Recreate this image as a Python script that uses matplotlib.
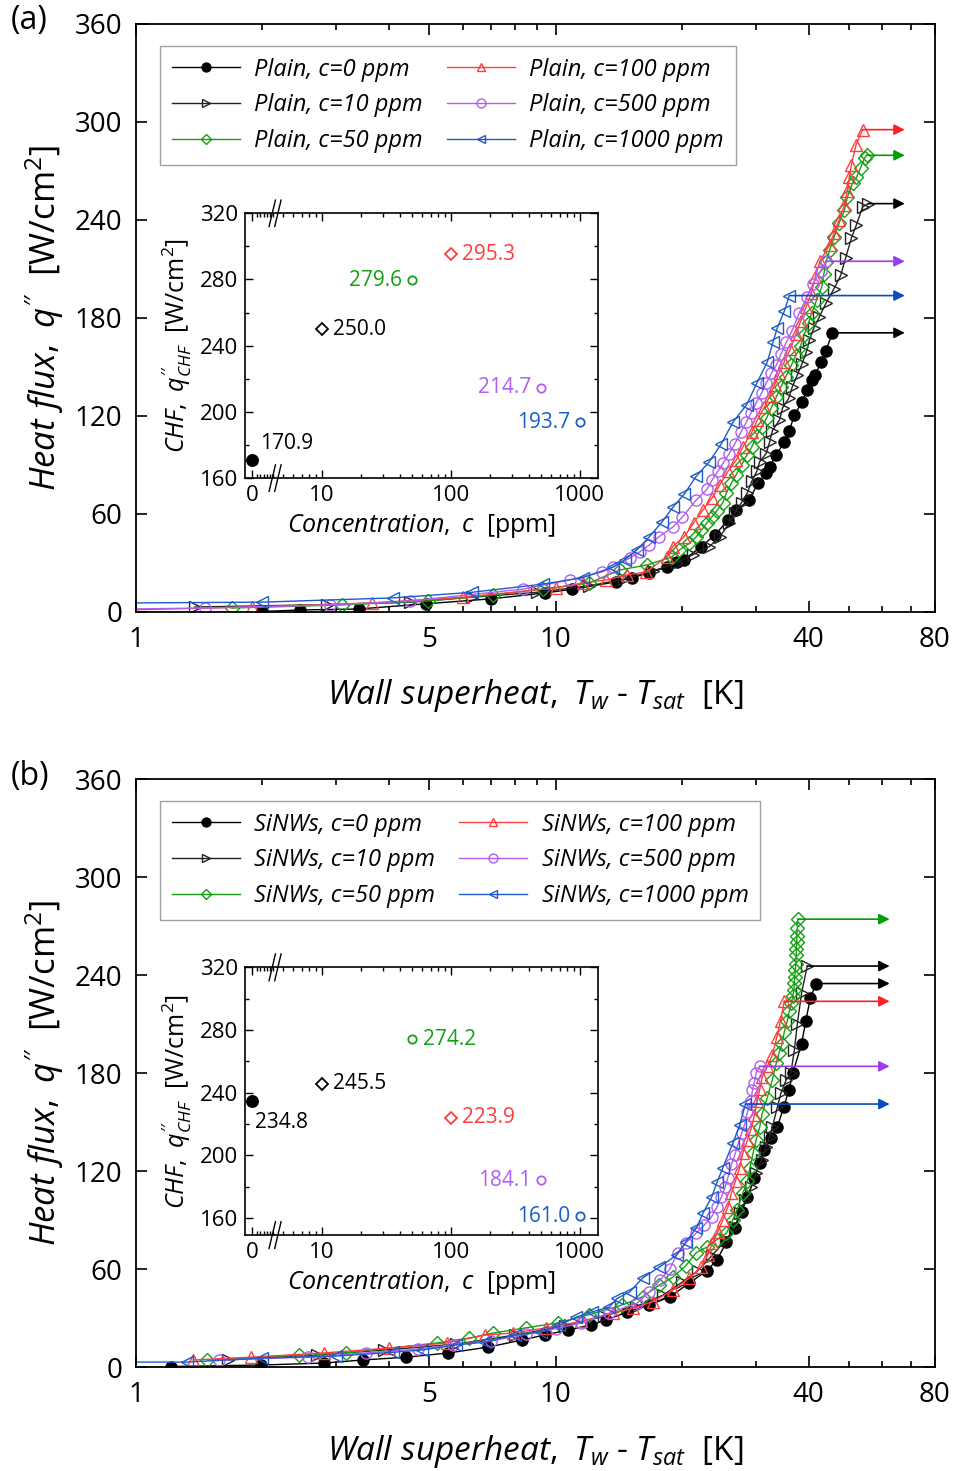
import numpy as np
import matplotlib
matplotlib.use('Agg')
import matplotlib.pyplot as plt
import matplotlib.ticker as ticker

plt.rcParams['font.family'] = ['Open Sans', 'DejaVu Sans']
plt.rcParams['mathtext.fontset'] = 'custom'
plt.rcParams['mathtext.rm'] = 'Open Sans'
plt.rcParams['mathtext.it'] = 'Open Sans:italic'

# concentrations and colours / markers of the six series
conc = [0, 10, 50, 100, 500, 1000]
conc_labels = ['c=0 ppm', 'c=10 ppm', 'c=50 ppm', 'c=100 ppm', 'c=500 ppm', 'c=1000 ppm']
colors = ['#000000', '#222222', '#13a013', '#ff3d3d', '#b05ef2', '#1c5cc8']
arrow_colors = ['#000000', '#000000', '#00a000', '#ff2020', '#9a3cf0', '#0a4cc0']
markers = ['o', '>', 'D', '^', 'o', '<']

# ---- panel (a): plain surface ----
a_dT_0 = [2.0, 2.46, 3.4, 4.9, 7.0, 9.4, 10.9, 13.9, 15.2, 16.7, 18.4, 19.4, 20.2, 22.2, 23.9, 25.7, 26.9,
          28.9, 30.3, 31.7, 32.3, 33.5, 35.0, 36.0, 37.0, 38.6, 39.7, 40.7, 41.5, 42.8, 44.0, 45.6]
a_q_0 = [0.3, 1.2, 1.8, 5.0, 8.0, 11.6, 13.8, 18.4, 21.0, 24.0, 27.5, 30.6, 32.0, 40.0, 47.0, 56.0, 62.4,
         68.5, 79.0, 85.0, 89.0, 96.0, 104.0, 111.0, 120.6, 128.5, 136.0, 142.0, 145.0, 153.0, 160.0, 170.9]
a_dT_10 = [1.38, 2.85, 4.5, 6.3, 9.0, 12.0, 14.5, 17.0, 19.4, 21.2, 23.2, 24.6, 25.9, 26.7, 27.7, 28.6, 29.3,
           30.1, 30.6, 31.7, 32.3, 32.8, 34.1, 34.7, 35.9, 36.6, 37.6, 38.6, 39.5, 40.2, 41.2, 42.4, 44.0,
           46.0, 47.7, 49.0, 50.6, 52.0, 53.8, 55.5]
a_q_10 = [3.0, 4.5, 6.0, 9.0, 12.0, 16.0, 20.0, 25.0, 30.0, 35.0, 40.0, 46.0, 54.5, 60.6, 67.0, 73.0, 80.0,
          86.0, 92.0, 97.0, 104.0, 111.0, 117.5, 125.0, 131.0, 138.0, 145.0, 152.0, 159.0, 166.5, 174.0, 180.5,
          189.0, 198.0, 206.0, 216.6, 229.0, 237.0, 248.0, 250.0]
a_dT_50 = [1.69, 3.1, 4.96, 7.1, 9.3, 12.0, 14.2, 16.5, 18.9, 19.7, 20.8, 21.6, 22.2, 22.9, 23.5, 24.2, 25.0,
           25.5, 26.2, 26.9, 27.7, 28.5, 29.3, 30.1, 30.9, 31.8, 32.6, 33.5, 34.4, 35.3, 36.4, 37.3, 38.3,
           39.0, 40.0, 40.7, 41.8, 43.0, 43.5, 44.0, 44.9, 46.0, 47.3, 48.7, 49.5, 50.9, 52.0, 53.2, 54.4, 55.0]
a_q_50 = [2.4, 4.3, 6.7, 10.4, 14.0, 17.7, 25.7, 28.8, 33.7, 38.0, 42.0, 46.0, 50.0, 54.5, 58.0, 62.0, 67.0,
          73.0, 79.0, 84.0, 90.0, 96.0, 101.0, 108.0, 113.0, 119.0, 125.0, 131.6, 138.0, 144.0, 151.0, 157.0,
          163.0, 169.5, 177.0, 183.0, 191.0, 199.0, 207.0, 214.0, 221.5, 229.5, 238.0, 246.0, 254.0, 262.5,
          266.0, 272.0, 278.0, 279.6]
a_dT_100 = [0.95, 1.89, 3.64, 6.0, 10.0, 11.6, 13.2, 14.8, 16.4, 18.4, 19.0, 20.2, 21.3, 22.4, 23.6, 24.6,
            25.7, 26.9, 27.9, 29.3, 30.2, 31.4, 32.3, 33.2, 34.0, 35.0, 36.2, 37.3, 38.3, 39.5, 40.6, 41.5,
            42.6, 44.9, 46.0, 47.3, 48.7, 49.5, 50.0, 50.6, 51.9, 53.8]
a_q_100 = [1.2, 3.0, 5.5, 9.0, 14.7, 17.7, 19.6, 22.6, 24.5, 33.7, 40.0, 46.0, 54.5, 62.4, 70.0, 78.0, 86.0,
           93.0, 101.0, 110.0, 117.5, 125.5, 132.0, 139.0, 146.0, 153.0, 161.0, 170.0, 178.0, 187.0, 195.0,
           205.0, 215.0, 224.6, 232.0, 240.0, 249.0, 258.0, 266.0, 273.6, 286.0, 295.3]
a_dT_500 = [0.95, 1.46, 2.9, 4.5, 8.35, 10.8, 12.9, 13.7, 15.0, 15.9, 16.7, 17.6, 19.0, 20.0, 21.6, 22.9,
            23.6, 24.3, 25.0, 25.9, 26.7, 27.6, 28.4, 29.2, 30.0, 30.9, 31.7, 32.6, 33.5, 34.4, 35.4, 36.5,
            38.0, 39.7, 41.0, 42.8, 44.0]
a_q_500 = [1.8, 2.4, 4.3, 6.7, 14.0, 19.6, 24.5, 27.5, 33.0, 37.0, 41.0, 46.0, 52.0, 58.0, 68.5, 75.0, 81.0,
           86.0, 91.0, 97.0, 103.0, 110.0, 116.0, 122.0, 128.0, 134.0, 140.0, 146.0, 151.0, 158.0, 165.0,
           172.0, 183.0, 193.0, 201.0, 209.0, 214.7]
a_dT_1000 = [0.95, 2.0, 4.1, 6.3, 9.3, 11.6, 13.7, 14.6, 15.6, 16.7, 17.9, 19.0, 20.2, 21.6, 23.2, 24.8,
             26.4, 28.5, 30.1, 31.9, 32.9, 33.7, 35.0, 36.0]
a_q_1000 = [5.5, 6.0, 8.6, 12.0, 17.0, 21.0, 27.5, 32.0, 38.0, 46.0, 55.0, 64.0, 72.0, 83.0, 92.0, 103.0,
            116.0, 127.0, 140.0, 153.0, 165.0, 174.0, 184.0, 193.7]
chf_a = [170.9, 250.0, 279.6, 295.3, 214.7, 193.7]

# ---- panel (b): SiNWs surface ----
b_dT_0 = [1.21, 1.98, 2.8, 3.47, 4.4, 5.55, 6.9, 8.3, 9.4, 10.7, 12.1, 13.2, 14.8, 16.7, 18.7, 20.8, 22.9,
          24.2, 25.5, 26.7, 27.7, 28.6, 29.7, 30.6, 31.4, 32.6, 33.7, 34.9, 35.9, 36.7, 38.5, 39.4, 40.4, 41.7]
b_q_0 = [0.3, 1.2, 2.4, 4.3, 6.0, 8.6, 12.2, 16.5, 19.6, 22.6, 25.7, 28.8, 33.7, 38.0, 43.0, 51.4, 59.0,
         65.5, 76.5, 85.0, 95.0, 104.0, 115.7, 125.0, 133.0, 140.0, 147.0, 159.0, 169.5, 180.0, 198.0, 212.0,
         226.0, 234.8]
b_dT_10 = [1.66, 2.7, 3.9, 5.8, 8.0, 10.5, 13.0, 15.5, 18.0, 20.0, 21.8, 23.5, 25.5, 26.7, 27.4, 28.3, 29.2,
           30.0, 30.9, 31.7, 32.3, 32.8, 33.7, 34.4, 35.4, 36.3, 37.0, 37.6, 38.5, 39.7]
b_q_10 = [4.3, 7.3, 10.4, 14.0, 19.6, 25.0, 31.0, 37.0, 44.0, 52.0, 59.0, 68.0, 78.0, 86.0, 94.0, 102.0,
          110.0, 119.0, 127.0, 135.0, 141.0, 147.0, 159.0, 168.0, 176.0, 180.0, 194.0, 210.0, 229.0, 245.5]
b_dT_50 = [1.48, 2.45, 3.16, 5.2, 6.2, 7.1, 8.5, 10.1, 12.0, 14.4, 16.1, 17.6, 19.0, 20.4, 21.6, 22.9, 24.2,
           25.5, 26.4, 27.0, 27.9, 28.6, 29.0, 29.5, 30.0, 30.6, 31.0, 31.9, 32.8, 33.5, 34.0, 34.6, 35.0,
           35.6, 36.0, 36.4, 36.7, 36.9, 37.0, 37.1, 37.2, 37.3, 37.4, 37.4, 37.5, 37.5, 37.6, 37.7]
b_q_50 = [4.3, 7.3, 8.6, 14.7, 17.7, 20.8, 24.0, 27.0, 32.0, 38.0, 43.0, 50.0, 55.0, 62.0, 70.0, 73.4, 78.0,
          82.0, 90.0, 96.0, 106.5, 114.0, 122.0, 131.0, 139.0, 147.0, 155.0, 165.0, 176.0, 186.0, 192.0, 198.0,
          205.0, 212.0, 218.0, 223.0, 227.0, 231.0, 235.0, 239.0, 243.0, 247.0, 252.0, 256.0, 260.0, 264.0,
          269.0, 274.2]
b_dT_100 = [1.37, 1.88, 2.8, 4.0, 5.5, 6.8, 7.9, 9.5, 11.5, 13.7, 15.3, 17.0, 19.0, 20.8, 22.2, 23.0, 23.6,
            24.3, 25.0, 25.7, 26.2, 26.8, 27.4, 27.9, 28.6, 29.2, 29.7, 30.2, 30.6, 31.0, 31.9, 32.8, 33.6,
            34.3, 35.0]
b_q_100 = [4.3, 6.0, 8.6, 11.6, 14.7, 19.6, 20.8, 24.0, 28.0, 33.0, 36.0, 40.0, 47.0, 54.5, 61.0, 68.5,
           76.0, 82.6, 90.0, 98.0, 106.5, 114.0, 122.0, 131.0, 139.0, 146.0, 154.0, 163.0, 170.0, 177.5,
           184.0, 191.0, 202.0, 212.0, 223.9]
b_dT_500 = [1.58, 2.57, 3.53, 4.7, 5.68, 7.0, 8.5, 10.0, 11.5, 13.4, 15.6, 16.7, 17.7, 18.7, 19.5, 20.4,
            21.6, 22.6, 23.5, 24.2, 24.8, 25.3, 25.7, 26.2, 26.7, 27.2, 27.7, 28.2, 28.6, 29.2, 29.4, 29.7,
            30.0, 30.6]
b_q_500 = [4.3, 6.0, 8.6, 11.0, 13.5, 16.0, 20.0, 23.5, 27.0, 33.0, 39.0, 46.0, 53.0, 60.0, 70.0, 76.0,
           82.0, 87.0, 92.0, 98.0, 104.0, 110.0, 116.0, 124.0, 130.0, 137.0, 143.0, 149.0, 156.0, 163.0,
           169.5, 174.0, 180.0, 184.1]
b_dT_1000 = [0.95, 1.32, 2.0, 3.0, 4.1, 4.8, 5.8, 6.8, 8.0, 9.2, 10.2, 11.2, 12.2, 13.4, 14.0, 15.0, 16.1,
             17.6, 19.4, 20.4, 21.6, 22.4, 23.5, 24.2, 25.0, 26.4, 27.4, 28.3]
b_q_1000 = [3.0, 3.0, 5.5, 6.7, 9.0, 10.4, 13.5, 15.3, 19.6, 21.4, 25.7, 30.6, 33.7, 36.7, 42.0, 46.0, 54.5,
            61.0, 68.5, 76.5, 85.0, 94.0, 104.0, 113.0, 122.0, 137.0, 148.0, 161.0]
chf_b = [234.8, 245.5, 274.2, 223.9, 184.1, 161.0]

x_ticks = [1, 5, 10, 40, 80]
y_ticks = [0, 60, 120, 180, 240, 300, 360]
inset_yticks = [160, 200, 240, 280, 320]
inset_xticks = [0, 10, 100, 1000]

# inset marker styles (per concentration)
inset_markers = ['o', 'D', 'o', 'D', 'o', 'o']
inset_colors = ['#000000', '#000000', '#13a013', '#ff3d3d', '#b05ef2', '#1c5cc8']


# broken inset axis: 0..4.33 linear, then log10
BRK = 4.33
X0 = 0.457


def fwd(x):
    x = np.asarray(x, dtype=float)
    lin = X0 + x * (np.log10(BRK) - X0) / BRK
    return np.where(x > BRK, np.log10(np.maximum(x, 1e-9)), lin)


def inv(y):
    y = np.asarray(y, dtype=float)
    lin = (y - X0) * BRK / (np.log10(BRK) - X0)
    return np.where(y > np.log10(BRK), 10 ** y, lin)


def main_panel(ax, dTs, qs, chfs, arrow_end, prefix):
    for i in range(6):
        fc = colors[i] if i == 0 else 'none'
        ax.plot(dTs[i], qs[i], marker=markers[i], color=colors[i], mfc=fc, mec=colors[i],
                ms=8 if markers[i] != 'D' else 7, mew=1.0, lw=1.0,
                label=prefix + ', ' + conc_labels[i])
        ax.annotate('', xy=(arrow_end, chfs[i]), xytext=(dTs[i][-1], chfs[i]),
                    arrowprops=dict(arrowstyle='-|>', color=arrow_colors[i], lw=1.2,
                                    mutation_scale=16, shrinkA=0, shrinkB=0))
    ax.set_xscale('log')
    ax.set_xlim(1, 80)
    ax.set_ylim(0, 360)
    ax.xaxis.set_major_locator(ticker.FixedLocator(x_ticks))
    ax.xaxis.set_major_formatter(ticker.FixedFormatter([str(v) for v in x_ticks]))
    ax.xaxis.set_minor_locator(ticker.FixedLocator([2, 3, 4, 6, 7, 8, 9, 20, 30, 50, 60, 70]))
    ax.xaxis.set_minor_formatter(ticker.NullFormatter())
    ax.set_yticks(y_ticks)
    ax.tick_params(which='both', direction='in', top=True, right=True, labelsize=20, width=1.2)
    ax.tick_params(which='major', length=8, pad=10)
    ax.tick_params(which='minor', length=4)
    for s in ax.spines.values():
        s.set_linewidth(1.3)
    ax.set_ylabel(r'$\it{Heat\ flux,\ q^{\prime\prime}}$  [W/cm$^2$]', fontsize=25, labelpad=6)
    ax.set_xlabel(r'$\it{Wall\ superheat,\ T_w}$ - $\it{T_{sat}}$  [K]', fontsize=24, labelpad=17)
    leg = ax.legend(loc='upper left', bbox_to_anchor=(0.03, 0.963), ncol=2, borderaxespad=0,
                    prop={'style': 'italic', 'size': 17}, handlelength=2.9, markerscale=0.8,
                    fancybox=False, edgecolor='#888888', columnspacing=1.0, labelspacing=0.5,
                    borderpad=0.5, handletextpad=0.6)
    leg.get_frame().set_linewidth(1.0)


def inset_panel(ax, chfs, label_pos, ymin):
    ax.set_xscale('function', functions=(fwd, inv))
    for i in range(6):
        fc = inset_colors[i] if i == 0 else 'none'
        ax.plot([conc[i]], [chfs[i]], marker=inset_markers[i], color=inset_colors[i],
                mfc=fc, mew=1.3, ms=8 if i == 0 else 6, ls='none')
        dx, dy, ha, va = label_pos[i]
        ax.annotate('%.1f' % chfs[i], (conc[i], chfs[i]), xytext=(dx, dy), textcoords='offset points',
                    ha=ha, va=va, color=inset_colors[i], fontsize=15)
    ax.set_xlim(float(inv(0.403)), float(inv(3.14)))
    ax.set_ylim(ymin, 320)
    ax.xaxis.set_major_locator(ticker.FixedLocator(inset_xticks))
    ax.xaxis.set_major_formatter(ticker.FixedFormatter([str(v) for v in inset_xticks]))
    minors = [1, 1.6, 2.2, 2.8, 3.4, 4.0] + [5, 6, 7, 8, 9] + list(range(20, 100, 10)) + list(range(200, 1000, 100))
    ax.xaxis.set_minor_locator(ticker.FixedLocator(minors))
    ax.xaxis.set_minor_formatter(ticker.NullFormatter())
    ax.set_yticks(inset_yticks)
    ax.yaxis.set_minor_locator(ticker.MultipleLocator(20))
    ax.tick_params(which='both', direction='in', top=True, right=True, labelsize=16, width=1.0)
    ax.tick_params(which='major', length=6, pad=5)
    ax.tick_params(which='minor', length=3)
    for s in ax.spines.values():
        s.set_linewidth(1.2)
    ax.set_ylabel(r'$\it{CHF,\ q^{\prime\prime}_{CHF}}$  [W/cm$^2$]', fontsize=18, labelpad=4)
    ax.set_xlabel(r'$\it{Concentration,\ c}$  [ppm]', fontsize=18, labelpad=4)
    # break marks
    bx = (np.log10(BRK) - 0.403) / (3.14 - 0.403)
    for yb in (0, 1):
        for off in (-0.008, 0.008):
            ax.plot([bx + off - 0.009, bx + off + 0.009], [yb - 0.05, yb + 0.05], color='k', lw=1.0,
                    transform=ax.transAxes, clip_on=False)


fig = plt.figure(figsize=(9.55, 14.71), dpi=100)
ax_a = fig.add_axes([0.1424, 0.584, 0.8366, 0.3997])
ax_b = fig.add_axes([0.1424, 0.0707, 0.8366, 0.3997])

main_panel(ax_a, [a_dT_0, a_dT_10, a_dT_50, a_dT_100, a_dT_500, a_dT_1000],
           [a_q_0, a_q_10, a_q_50, a_q_100, a_q_500, a_q_1000], chf_a, 67.8, 'Plain')
main_panel(ax_b, [b_dT_0, b_dT_10, b_dT_50, b_dT_100, b_dT_500, b_dT_1000],
           [b_q_0, b_q_10, b_q_50, b_q_100, b_q_500, b_q_1000], chf_b, 62.4, 'SiNWs')

in_a = fig.add_axes([0.2565, 0.675, 0.3696, 0.180])
in_b = fig.add_axes([0.2565, 0.1604, 0.3696, 0.182])

inset_panel(in_a, chf_a, [(6, 4, 'left', 'bottom'), (8, 0, 'left', 'center'), (-7, 0, 'right', 'center'),
                          (8, 0, 'left', 'center'), (-7, 0, 'right', 'center'), (-7, 0, 'right', 'center')], 160)
inset_panel(in_b, chf_b, [(2, -8, 'left', 'top'), (8, 0, 'left', 'center'), (8, 0, 'left', 'center'),
                          (8, 0, 'left', 'center'), (-7, 0, 'right', 'center'), (-7, 0, 'right', 'center')], 149)

fig.text(0.011, 0.986, '(a)', fontsize=23, va='center')
fig.text(0.011, 0.472, '(b)', fontsize=23, va='center')

fig.savefig('out.png', dpi=100)
